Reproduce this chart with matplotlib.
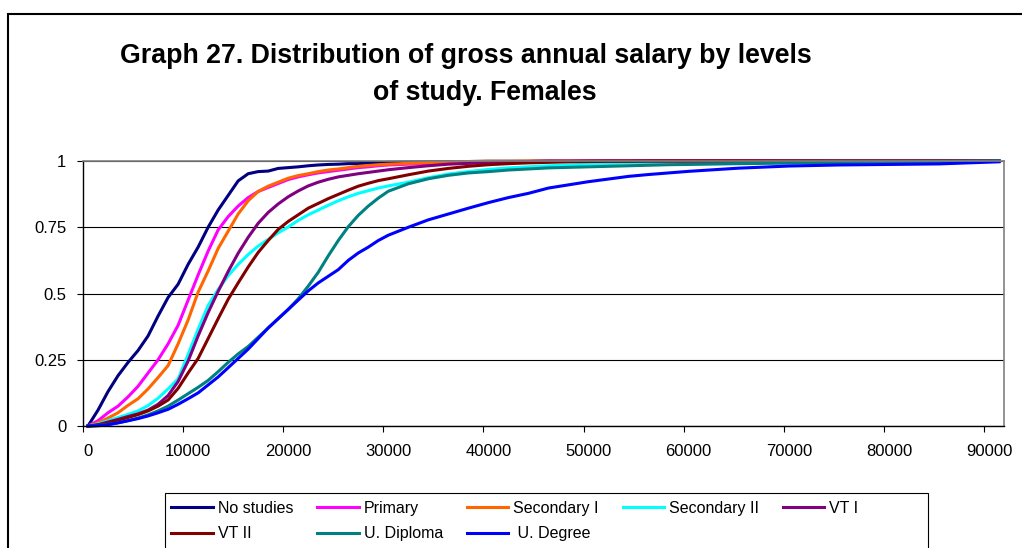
import matplotlib.pyplot as plt
from matplotlib.patches import Rectangle

# salary categories (euros)
salary = [0, 1000, 2000, 3000, 4000, 5000, 6000, 7000, 8000, 9000,
          10000, 11000, 12000, 13000, 14000, 15000, 16000, 17000, 18000, 19000,
          20000, 21000, 22000, 23000, 24000, 25000, 26000, 27000, 28000, 29000,
          30000, 32000, 34000, 36000, 38000, 40000, 42000, 44000, 46000, 48000,
          50000, 52000, 54000, 56000, 58000, 60000,
          65000, 70000, 75000, 80000, 85000, 91000]

no_studies = [0, .06, .13, .19, .24, .285, .34, .415, .485, .535,
              .61, .675, .75, .815, .87, .925, .952, .96, .962, .972,
              .975, .978, .982, .985, .987, .988, .99, .99, .992, .993,
              .995, .996, .997, .998, .998, .999, .999, .999, 1, 1,
              1, 1, 1, 1, 1, 1,
              1, 1, 1, 1, 1, 1]
primary = [0, .02, .05, .075, .11, .15, .20, .25, .31, .38,
           .475, .57, .66, .74, .79, .83, .862, .885, .90, .915,
           .93, .94, .948, .955, .96, .965, .97, .975, .978, .982,
           .985, .988, .99, .992, .994, .996, .997, .998, .999, .999,
           1, 1, 1, 1, 1, 1,
           1, 1, 1, 1, 1, 1]
secondary_1 = [0, .012, .03, .05, .078, .103, .14, .183, .228, .31,
               .40, .505, .585, .67, .735, .80, .85, .885, .905, .92,
               .935, .945, .952, .96, .966, .97, .975, .98, .983, .986,
               .988, .991, .994, .996, .998, .999, .999, 1, 1, 1,
               1, 1, 1, 1, 1, 1,
               1, 1, 1, 1, 1, 1]
secondary_2 = [0, .008, .02, .032, .044, .057, .077, .105, .14, .178,
               .27, .365, .455, .515, .567, .61, .647, .679, .704, .729,
               .751, .776, .797, .815, .833, .85, .865, .878, .888, .898,
               .906, .92, .937, .951, .96, .968, .974, .978, .982, .985,
               .988, .99, .992, .993, .995, .997,
               .998, .999, 1, 1, 1, 1]
vt_1 = [0, .005, .015, .025, .036, .046, .06, .082, .115, .168,
        .245, .34, .428, .508, .583, .652, .712, .765, .806, .838,
        .865, .887, .906, .92, .931, .94, .946, .952, .957, .962,
        .967, .975, .982, .988, .991, .994, .996, .998, .999, .999,
        1, 1, 1, 1, 1, 1,
        1, 1, 1, 1, 1, 1]
vt_2 = [0, .004, .012, .022, .032, .043, .057, .075, .098, .142,
        .20, .255, .33, .405, .478, .54, .60, .655, .70, .742,
        .772, .797, .822, .84, .858, .874, .89, .905, .916, .926,
        .933, .948, .962, .972, .98, .986, .99, .993, .995, .997,
        .998, .999, .999, 1, 1, 1,
        1, 1, 1, 1, 1, 1]
u_diploma = [0, .002, .006, .012, .02, .03, .042, .057, .075, .098,
             .122, .146, .172, .205, .24, .272, .30, .335, .37, .405,
             .44, .48, .528, .58, .642, .70, .752, .795, .83, .86,
             .886, .914, .933, .946, .955, .96, .966, .97, .974, .976,
             .978, .98, .982, .984, .986, .987,
             .99, .992, .994, .996, .998, 1]
u_degree = [0, .001, .005, .012, .02, .028, .038, .05, .063, .082,
            .103, .125, .155, .185, .22, .255, .29, .33, .37, .405,
            .44, .475, .51, .54, .565, .59, .625, .653, .675, .70,
            .72, .75, .778, .80, .822, .843, .862, .878, .898, .91,
            .922, .932, .942, .949, .955, .961,
            .973, .981, .985, .987, .989, .997]

labels = ["No studies", "Primary", "Secondary I", "Secondary II", "VT I",
          "VT II", "U. Diploma", " U. Degree"]
colors = ["#000080", "#FF00FF", "#FF6600", "#00FFFF", "#800080",
          "#800000", "#008080", "#0000FF"]
series = [no_studies, primary, secondary_1, secondary_2, vt_1,
          vt_2, u_diploma, u_degree]

xtick_vals = [0, 10000, 20000, 30000, 40000, 50000, 60000, 70000, 80000, 90000]
ytick_vals = [0, 0.25, 0.5, 0.75, 1]
ytick_labels = ["0", "0.25", "0.5", "0.75", "1"]

plt.rcParams["font.family"] = ["Liberation Sans", "DejaVu Sans"]

fig = plt.figure(figsize=(10.22, 5.48), dpi=100)
ax = fig.add_axes([0.0812, 0.2226, 0.9012, 0.4836])

handles = []
for vals, lab, col in zip(series, labels, colors):
    line, = ax.plot(salary, vals, color=col, lw=2.2, label=lab, clip_on=False,
                    solid_joinstyle="round")
    handles.append(line)

ax.set_xlim(-500, 91500)
ax.set_ylim(0, 1)

# ticks sit between categories, labels on the category
ax.set_xticks([v - 500 for v in xtick_vals], [""] * len(xtick_vals))
ax.set_xticks(xtick_vals, [str(v) for v in xtick_vals], minor=True)
ax.tick_params(axis="x", which="major", length=4.5, width=0.8, direction="out")
ax.tick_params(axis="x", which="minor", length=0, pad=13, labelsize=12)
ax.set_yticks(ytick_vals, ytick_labels)
ax.tick_params(axis="y", length=4, width=0.8, direction="out", pad=8, labelsize=12)

ax.yaxis.grid(True, color="black", lw=0.8)
ax.set_axisbelow(True)
for s in ["top", "right"]:
    ax.spines[s].set_color("#808080")
    ax.spines[s].set_linewidth(1.2)
for s in ["left", "bottom"]:
    ax.spines[s].set_color("black")
    ax.spines[s].set_linewidth(1.0)

fig.text(0.456, 0.885, "Graph 27. Distribution of gross annual salary by levels",
         ha="center", va="baseline", fontsize=19.3, fontweight="bold")
fig.text(0.4746, 0.8175, "of study. Females",
         ha="center", va="baseline", fontsize=19.3, fontweight="bold")

# legend fills column by column, so reorder to get Excel's row layout
order = [0, 5, 1, 6, 2, 7, 3, 4]
fig.legend([handles[i] for i in order], [labels[i] for i in order],
           loc="upper left", bbox_to_anchor=(0.1678, 0.086), bbox_transform=fig.transFigure,
           ncol=5, frameon=False, borderpad=0, borderaxespad=0, fontsize=11.5,
           handlelength=2.6, handletextpad=0.3, columnspacing=1.5, labelspacing=0.65)

fig.add_artist(Rectangle((0.1614, -0.05), 0.7466, 0.1504, transform=fig.transFigure,
                         fill=False, edgecolor="black", lw=0.8))
fig.add_artist(Rectangle((0.0078, -0.05), 1.1, 1.0245, transform=fig.transFigure,
                         fill=False, edgecolor="black", lw=1.5))

fig.savefig("out.png", dpi=100)
